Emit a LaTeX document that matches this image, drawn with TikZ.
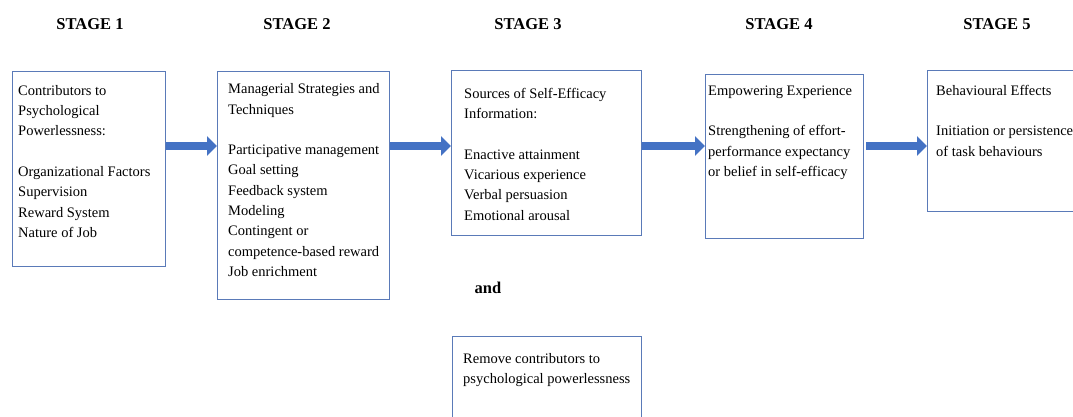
\documentclass[tikz,border=0pt]{standalone}
\usepackage{fontspec}
\setmainfont{Liberation Serif}
\usetikzlibrary{arrows.meta}
\definecolor{boxline}{HTML}{5A7AB8}
\definecolor{arrowblue}{HTML}{4472C4}
\tikzset{x=1pt, y=-1pt, font=\fontsize{14.5}{20.3}\selectfont}
\tikzstyle{stage} = [font=\fontsize{16.5}{18}\selectfont\bfseries]
\tikzstyle{stagebox} = [draw=boxline, line width=1.4pt, rectangle, anchor=north west, inner sep=0pt]
\tikzstyle{boxtext} = [anchor=north west, align=left, inner sep=0pt]
\tikzstyle{bigarrow} = [draw=arrowblue, line width=7.5pt, -{Triangle[length=10pt, width=19pt, fill=arrowblue]}]

\begin{document}
\begin{tikzpicture}
		\clip (0,0) rectangle (1073,417);
		\coordinate (arrowy) at (0,146);

		% stage headings
		\node [stage] (s1) at (90,24) {STAGE 1};
		\node [stage] (s2) at (297,24) {STAGE 2};
		\node [stage] (s3) at (528,24) {STAGE 3};
		\node [stage] (s4) at (779,24) {STAGE 4};
		\node [stage] (s5) at (997,24) {STAGE 5};

		% boxes
		\node [stagebox, minimum width=153, minimum height=195] (b1) at (12,71) {};
		\node [stagebox, minimum width=172, minimum height=228] (b2) at (217,71) {};
		\node [stagebox, minimum width=190, minimum height=165] (b3) at (451,70) {};
		\node [stagebox, minimum width=158, minimum height=164] (b4) at (705,74) {};
		\node [stagebox, minimum width=170, minimum height=141] (b5) at (927,70) {};
		\node [stagebox, minimum width=189, minimum height=110] (b6) at (452,336) {};

		% box texts (top of strut = first baseline - 14.2)
		\node [boxtext] (t1) at (18,80.8) {\strut Contributors to\\Psychological\\Powerlessness:\\[20.3pt]Organizational Factors\\Supervision\\Reward System\\Nature of Job};
		\node [boxtext] (t2) at (228,79.3) {\strut Managerial Strategies and\\Techniques\\[20.3pt]Participative management\\Goal setting\\Feedback system\\Modeling\\Contingent or\\competence-based reward\\Job enrichment};
		\node [boxtext] (t3) at (464,83.8) {\strut Sources of Self-Efficacy\\Information:\\[20.3pt]Enactive attainment\\Vicarious experience\\Verbal persuasion\\Emotional arousal};
		\node [boxtext] (t4) at (708,80.8) {\strut Empowering Experience\\[20.3pt]Strengthening of effort-\\performance expectancy\\or belief in self-efficacy};
		\node [boxtext] (t5) at (936,80.8) {\strut Behavioural Effects\\[20.3pt]Initiation or persistence\\of task behaviours};
		\node [boxtext] (t6) at (463,348.8) {\strut Remove contributors to\\psychological powerlessness};

		\node [stage] (and) at (488,288) {and};

		% arrows
		\draw [bigarrow] (b1.east |- arrowy) -- (b2.west |- arrowy);
		\draw [bigarrow] (b2.east |- arrowy) -- (b3.west |- arrowy);
		\draw [bigarrow] (b3.east |- arrowy) -- (b4.west |- arrowy);
		\draw [bigarrow] ([xshift=2pt]b4.east |- arrowy) -- (b5.west |- arrowy);
	\end{tikzpicture}
\end{document}
